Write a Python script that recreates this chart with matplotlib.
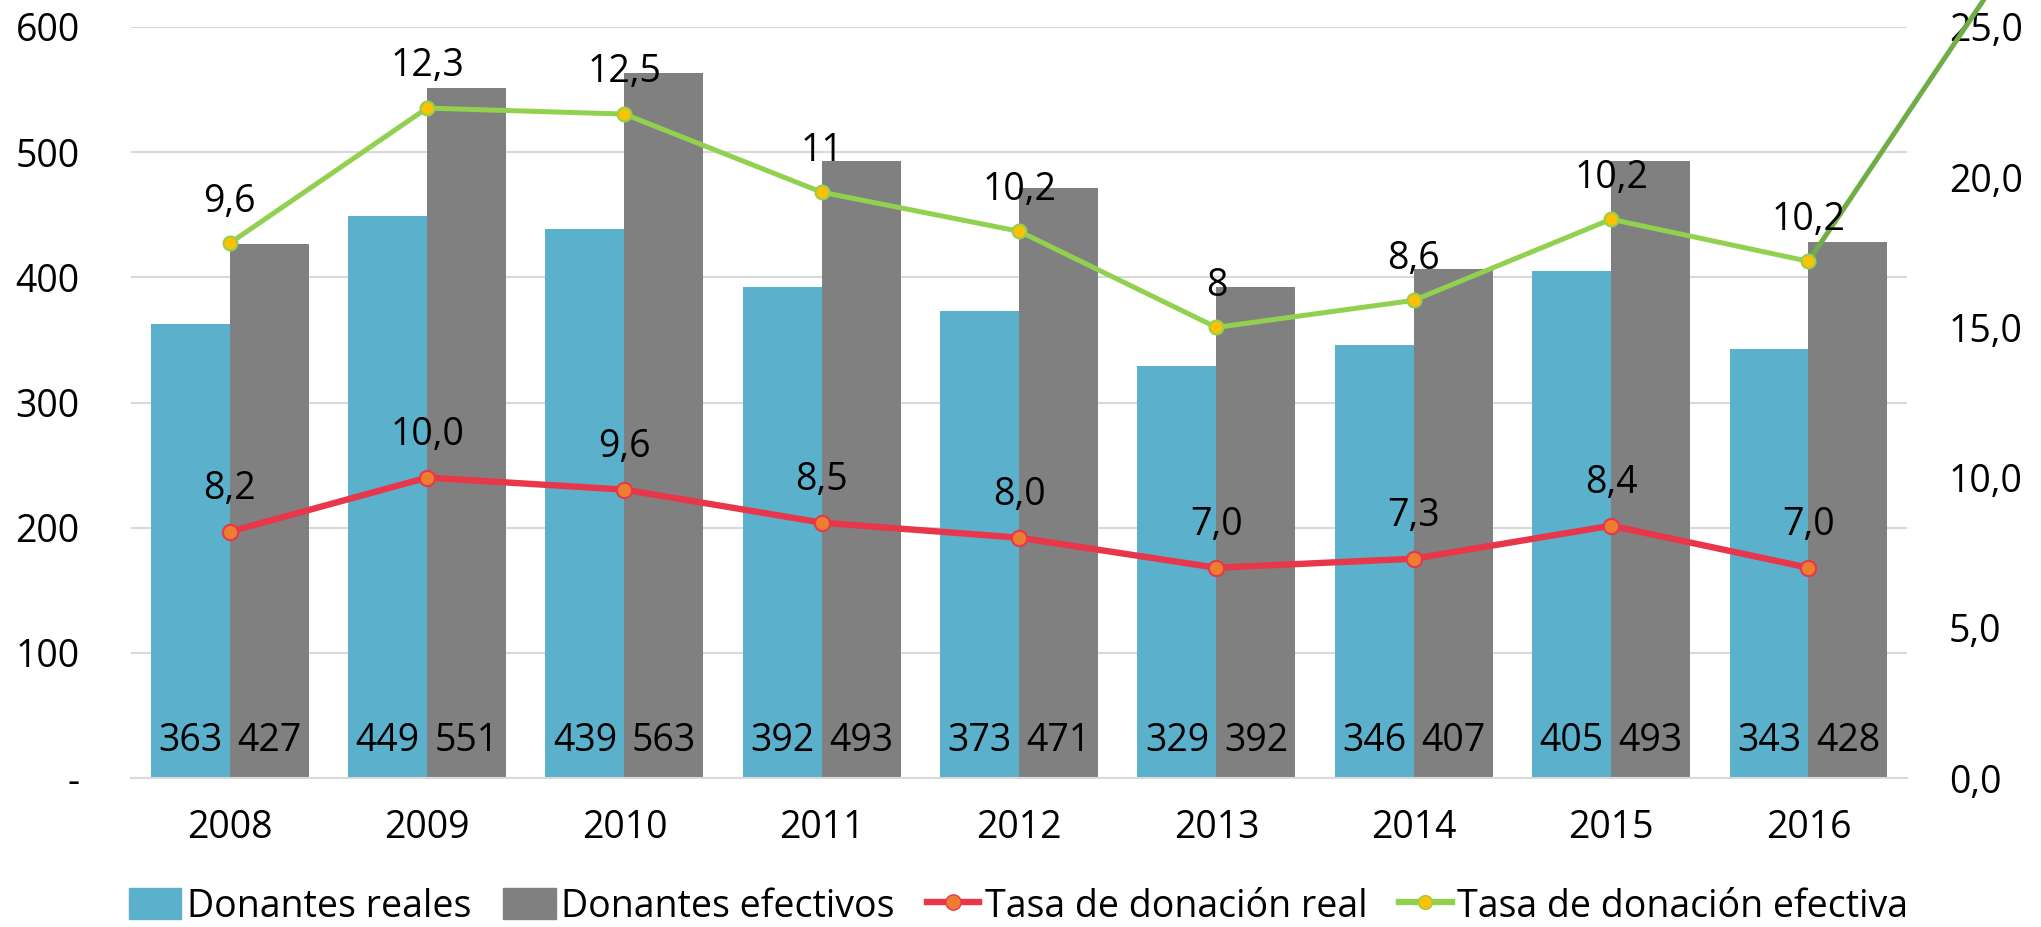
import matplotlib.pyplot as plt
from matplotlib.lines import Line2D
from matplotlib.patches import Patch
import numpy as np

plt.rcParams['font.family'] = ['Open Sans', 'DejaVu Sans']
plt.rcParams['font.size'] = 27

years = ['2008', '2009', '2010', '2011', '2012', '2013', '2014', '2015', '2016']
donantes_reales = [363, 449, 439, 392, 373, 329, 346, 405, 343]
donantes_efectivos = [427, 551, 563, 493, 471, 392, 407, 493, 428]
tasa_real = [8.2, 10.0, 9.6, 8.5, 8.0, 7.0, 7.3, 8.4, 7.0]
tasa_efectiva = [9.6, 12.3, 12.5, 11, 10.2, 8, 8.6, 10.2, 10.2]
tasa_efectiva_labels = ['9,6', '12,3', '12,5', '11', '10,2', '8', '8,6', '10,2', '10,2']
# stray point after 2016 that runs off the top of the chart
tasa_extra = 27.0

blue = '#5BB1CB'
gray = '#808080'
red = '#E8364A'
orange = '#ED7D31'
green = '#92D050'
dark_green = '#70AD47'
yellow = '#FFC000'

x = np.arange(len(years))
w = 0.4

fig = plt.figure(figsize=(20.41, 9.27), dpi=100)
ax = fig.add_axes([0.0642, 0.1607, 0.8702, 0.8102])
ax2 = ax.twinx()

ax.bar(x - w/2, donantes_reales, w, color=blue, zorder=2)
ax.bar(x + w/2, donantes_efectivos, w, color=gray, zorder=2)
for i in range(len(years)):
    ax.annotate(str(donantes_reales[i]), (x[i] - w/2, 0), xytext=(0, 27), textcoords='offset points',
                ha='center', va='center')
    ax.annotate(str(donantes_efectivos[i]), (x[i] + w/2, 0), xytext=(0, 27), textcoords='offset points',
                ha='center', va='center')

ax.set_ylim(0, 600)
ax.set_xlim(-0.5, len(years) - 0.5)
ax.set_yticks(range(0, 601, 100))
ax.set_yticklabels(['-'] + [str(v) for v in range(100, 601, 100)])
ax.set_xticks(x)
ax.set_xticklabels(years)
ax.grid(axis='y', color='#D9D9D9', lw=1.5, zorder=0)
ax.set_axisbelow(True)
for s in ['top', 'right', 'left']:
    ax.spines[s].set_visible(False)
ax.spines['bottom'].set_color('#D9D9D9')
ax.spines['bottom'].set_linewidth(1.5)
ax.tick_params(axis='y', length=0, pad=37)
ax.tick_params(axis='x', length=0, pad=22)

# effective rate is stacked on top of the real rate
stacked = [a + b for a, b in zip(tasa_real, tasa_efectiva)]

ax2.plot([x[-1], x[-1] + 1], [stacked[-1], tasa_extra], color=dark_green, lw=3.6, clip_on=False, zorder=3)
ax2.plot(x, tasa_real, color=red, lw=4.6, marker='o', ms=11, mfc=orange, mec=red, mew=1.5, zorder=4)
ax2.plot(x, stacked, color=green, lw=3.6, marker='o', ms=10, mfc=yellow, mec=green, mew=1.5, zorder=4)
for i in range(len(years)):
    ax2.annotate(f'{tasa_real[i]:.1f}'.replace('.', ','), (x[i], tasa_real[i]), xytext=(0, 31),
                 textcoords='offset points', ha='center', va='center')
    ax2.annotate(tasa_efectiva_labels[i], (x[i], stacked[i]), xytext=(0, 30),
                 textcoords='offset points', ha='center', va='center')

ax2.set_ylim(0, 25)
ax2.set_yticks(np.arange(0, 26, 5))
ax2.set_yticklabels([f'{v:.1f}'.replace('.', ',') for v in np.arange(0, 26, 5)])
ax2.tick_params(axis='y', length=0, pad=30)
for s in ax2.spines.values():
    s.set_visible(False)

handles = [Patch(color=blue), Patch(color=gray),
           Line2D([], [], color=red, lw=4.6, marker='o', ms=11, mfc=orange, mec=red),
           Line2D([], [], color=green, lw=4.6, marker='o', ms=10, mfc=yellow, mec=green)]
labels = ['Donantes reales', 'Donantes efectivos', 'Tasa de donación real', 'Tasa de donación efectiva']
fig.legend(handles, labels, loc='center', bbox_to_anchor=(0.499, 0.022), ncol=4, frameon=False,
           handlelength=1.4, handleheight=0.9, handletextpad=0.15, columnspacing=0.85, borderaxespad=0)

fig.savefig('out.png', dpi=100)
